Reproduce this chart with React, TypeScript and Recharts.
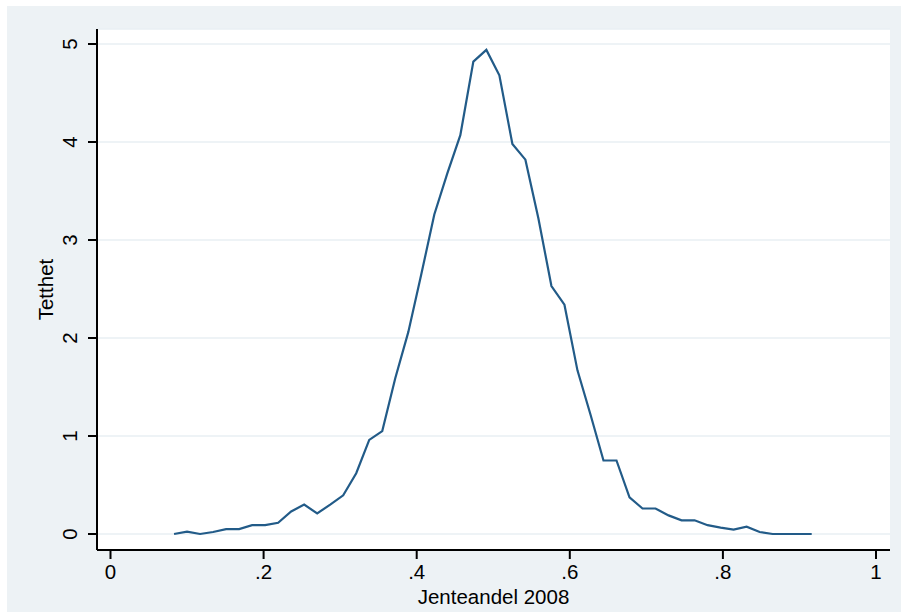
import React from "react";
import { CartesianGrid, Label, Line, LineChart, XAxis, YAxis } from "recharts";

// Kernel density of the share of girls (Jenteandel) in 2008, evaluated on a 50-point grid
const GRID_X = [
    0.083, 0.100, 0.117, 0.134, 0.151, 0.168, 0.185, 0.202, 0.219, 0.236,
    0.253, 0.270, 0.287, 0.304, 0.321, 0.338, 0.355, 0.372, 0.389, 0.406,
    0.423, 0.440, 0.457, 0.474, 0.491, 0.508, 0.525, 0.542, 0.559, 0.576,
    0.593, 0.610, 0.627, 0.644, 0.661, 0.678, 0.695, 0.712, 0.729, 0.746,
    0.763, 0.780, 0.797, 0.814, 0.831, 0.848, 0.865, 0.882, 0.899, 0.916,
];

const DENSITY = [
    0.0, 0.025, 0.0, 0.02, 0.05, 0.05, 0.09, 0.09, 0.115, 0.23,
    0.30, 0.21, 0.30, 0.395, 0.62, 0.96, 1.05, 1.59, 2.06, 2.65,
    3.26, 3.68, 4.07, 4.82, 4.94, 4.68, 3.98, 3.82, 3.22, 2.53,
    2.34, 1.67, 1.22, 0.75, 0.75, 0.375, 0.26, 0.26, 0.19, 0.14,
    0.14, 0.09, 0.065, 0.045, 0.075, 0.02, 0.0, 0.0, 0.0, 0.0,
];

const X_TICKS = [0, 0.2, 0.4, 0.6, 0.8, 1];
const Y_TICKS = [0, 1, 2, 3, 4, 5];

const X_TITLE = "Jenteandel 2008";
const Y_TITLE = "Tetthet";

const FONT = "'Liberation Sans', Arial, Helvetica, sans-serif";
const FONT_SIZE = 20.5;
const LINE_COLOR = "#225b88";
const PANEL_BG = "#edf2f5";
const GRID_COLOR = "#e9eff3";

const data = GRID_X.map((x, i) => ({ x, y: DENSITY[i] }));

// Stata-style labels: ".2" instead of "0.2"
const formatX = (v: number) => (v === 0 || v === 1 ? String(v) : String(v).replace(/^0/, ""));

const YTick = (props: any) => {
    const { x, y, payload } = props;
    return (
        <text
            x={x}
            y={y}
            transform={`rotate(-90, ${x}, ${y})`}
            textAnchor="middle"
            fontFamily={FONT}
            fontSize={FONT_SIZE}
            fill="#000"
        >
            {payload.value}
        </text>
    );
};

export default function App() {
    return (
        <div style={{ position: "absolute", left: 0, top: 0, width: 901, height: 612, background: "#fff" }}>
            <div style={{ position: "absolute", left: 7, top: 6, width: 894, height: 606, background: PANEL_BG }} />
            <div style={{ position: "absolute", left: 0, top: 0 }}>
                <LineChart
                    width={901}
                    height={612}
                    data={data}
                    margin={{ top: 29, right: 11, bottom: 0, left: 0 }}
                >
                    <CartesianGrid vertical={false} fill="#ffffff" stroke={GRID_COLOR} strokeWidth={1.5} />
                    <XAxis
                        type="number"
                        dataKey="x"
                        domain={[0, 1]}
                        ticks={X_TICKS}
                        tickFormatter={formatX}
                        padding={{ left: 13.5, right: 14 }}
                        height={62}
                        tickSize={9}
                        tickMargin={5}
                        interval={0}
                        axisLine={{ stroke: "#000", strokeWidth: 2 }}
                        tickLine={{ stroke: "#000", strokeWidth: 2 }}
                        tick={{ fill: "#000", fontFamily: FONT, fontSize: FONT_SIZE }}
                    >
                        <Label
                            content={(p: any) => {
                                const vb = p.viewBox || { x: 97, y: 550, width: 793, height: 62 };
                                return (
                                    <text
                                        x={vb.x + vb.width / 2}
                                        y={vb.y + vb.height - 8}
                                        textAnchor="middle"
                                        fontFamily={FONT}
                                        fontSize={FONT_SIZE}
                                        fill="#000"
                                    >
                                        {X_TITLE}
                                    </text>
                                );
                            }}
                        />
                    </XAxis>
                    <YAxis
                        type="number"
                        dataKey="y"
                        domain={[0, 5]}
                        ticks={Y_TICKS}
                        padding={{ top: 15, bottom: 16 }}
                        width={97}
                        tickSize={9}
                        tickMargin={11}
                        interval={0}
                        axisLine={{ stroke: "#000", strokeWidth: 2 }}
                        tickLine={{ stroke: "#000", strokeWidth: 2 }}
                        tick={<YTick />}
                    >
                        <Label
                            content={(p: any) => {
                                const vb = p.viewBox || { x: 0, y: 29, width: 97, height: 521 };
                                const cx = vb.x + 52.5;
                                const cy = vb.y + vb.height / 2;
                                return (
                                    <text
                                        x={cx}
                                        y={cy}
                                        transform={`rotate(-90, ${cx}, ${cy})`}
                                        textAnchor="middle"
                                        fontFamily={FONT}
                                        fontSize={FONT_SIZE}
                                        fill="#000"
                                    >
                                        {Y_TITLE}
                                    </text>
                                );
                            }}
                        />
                    </YAxis>
                    <Line
                        type="linear"
                        dataKey="y"
                        stroke={LINE_COLOR}
                        strokeWidth={2.2}
                        dot={false}
                        activeDot={false}
                        isAnimationActive={false}
                    />
                </LineChart>
            </div>
        </div>
    );
}
